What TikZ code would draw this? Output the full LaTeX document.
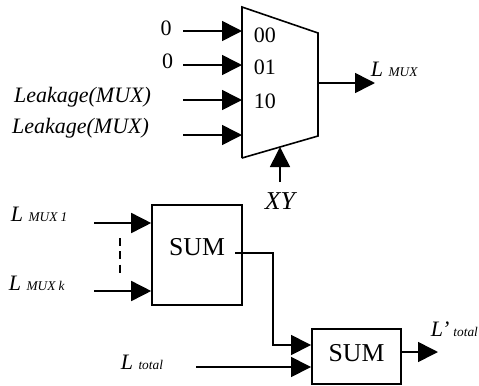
\documentclass[tikz,border=0pt]{standalone}
\usepackage{fontspec}
\setmainfont{Liberation Serif}
\usetikzlibrary{arrows.meta}
\newcommand{\lsub}[2]{\fontsize{16.5}{20}\selectfont\textit{#1} {\fontsize{10}{12}\selectfont\textit{#2}}}

\begin{document}
\begin{tikzpicture}[x=.75pt,y=-.75pt,line width=1.2pt]
\tikzstyle{wire}=[-{Triangle[length=15pt,width=15pt]}]
\tikzstyle{box}=[draw,fill=white,rectangle,inner sep=0pt,font=\fontsize{19.3}{22}\selectfont,text height=12.75pt]
\tikzstyle{txt}=[inner sep=0pt,anchor=base,font=\fontsize{16.5}{20}\selectfont]
\tikzstyle{ltxt}=[inner sep=0pt,anchor=base west]

\useasboundingbox (0,0) rectangle (479,386);

\coordinate (muxTL) at (242,7);
\coordinate (muxTR) at (318,33);
\coordinate (muxBR) at (318,136);
\coordinate (muxBL) at (242,158);
\draw (muxBL) -- (muxBR) -- (muxTR) -- (muxTL) -- (muxBL);

\node (zeroA) at (166,35) [txt] {0};
\node (zeroB) at (167.5,68) [txt] {0};
\node (leakA) at (82.5,102) [txt] {\textit{Leakage(MUX)}};
\node (leakB) at (80.5,133) [txt] {\textit{Leakage(MUX)}};

\node (selA) at (253,42) [txt,anchor=base west] {00};
\node (selB) at (253,74) [txt,anchor=base west] {01};
\node (selC) at (253,108) [txt,anchor=base west] {10};

\coordinate (inA) at (183,31);
\coordinate (inB) at (183,65);
\coordinate (inC) at (183,100);
\coordinate (inD) at (183,135);
\draw[wire] (inA) -- (inA -| muxTL);
\draw[wire] (inB) -- (inB -| muxTL);
\draw[wire] (inC) -- (inC -| muxTL);
\draw[wire] (inD) -- (inD -| muxTL);

\coordinate (muxOut) at (318,83);
\coordinate (muxEnd) at (375,83);
\draw[wire] (muxOut) -- (muxEnd);
\node (lmux) at (370,76) [ltxt] {\lsub{L}{MUX}};

\node (xy) at (280,209) [txt,font=\fontsize{19.3}{22}\selectfont\itshape] {XY};
\coordinate (selStart) at (280,182);
\coordinate (selEnd) at (280,147);
\draw[wire] (selStart) -- (selEnd);

\node (sumA) at (197,255) [box,minimum width=67.5pt,minimum height=75pt,text depth=12.75pt] {SUM};
\node (sumB) at (356.5,356.5) [box,minimum width=67pt,minimum height=41.5pt,text depth=6pt] {SUM};

\node (lmuxA) at (10,221) [ltxt] {\lsub{L}{MUX 1}};
\node (lmuxK) at (8,290) [ltxt] {\lsub{L}{MUX k}};
\node (ltotal) at (120,369) [ltxt] {\lsub{L}{total}};
\node (ltotalB) at (430,336) [ltxt] {\lsub{L’\kern-1.2pt}{total}};

\coordinate (sInA) at (94,223);
\coordinate (sInK) at (94,291);
\draw[wire] (sInA) -- (sInA -| sumA.west);
\draw[wire] (sInK) -- (sInK -| sumA.west);
\coordinate (dotsTop) at (120,238);
\coordinate (dotsEnd) at (120,274);
\draw[dash pattern=on 6pt off 4pt] (dotsTop) -- (dotsEnd);

\coordinate (sumOut) at (235,253);
\coordinate (bend) at (273,253);
\coordinate (bendEnd) at (273,345);
\draw[wire] (sumOut) -- (bend) -- (bendEnd) -- (bendEnd -| sumB.west);
\coordinate (totalIn) at (196,367);
\draw[wire] (totalIn) -- (totalIn -| sumB.west);
\coordinate (finalEnd) at (438,352);
\draw[wire] (finalEnd -| sumB.east) -- (finalEnd);

\end{tikzpicture}
\end{document}
